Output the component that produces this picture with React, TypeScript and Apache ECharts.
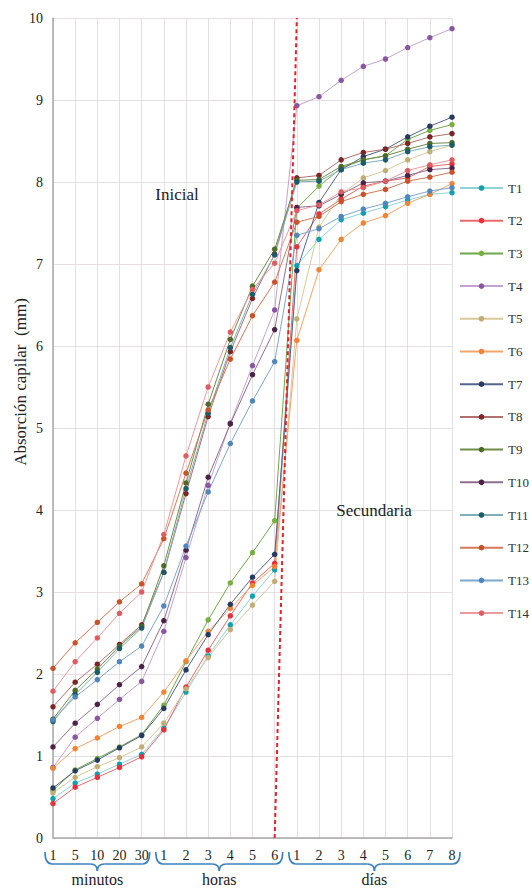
import React, { useEffect, useRef } from 'react';
import * as echarts from 'echarts';

const minutos = ['1', '5', '10', '20', '30'];
const horas = ['1', '2', '3', '4', '5', '6'];
const dias = ['1', '2', '3', '4', '5', '6', '7', '8'];
const categories = [...minutos, ...horas, ...dias];
const groupLabels = ['minutos', 'horas', 'días'];

const seriesNames = ['T1', 'T2', 'T3', 'T4', 'T5', 'T6', 'T7', 'T8', 'T9', 'T10', 'T11', 'T12', 'T13', 'T14'];

const T1 = [0.48, 0.67, 0.78, 0.90, 1.02, 1.34, 1.78, 2.22, 2.60, 2.95, 3.27, 6.98, 7.30, 7.54, 7.62, 7.70, 7.78, 7.85, 7.87];
const T2 = [0.42, 0.62, 0.74, 0.86, 0.99, 1.32, 1.84, 2.29, 2.71, 3.11, 3.35, 7.21, 7.61, 7.79, 7.95, 8.01, 8.05, 8.19, 8.22];
const T3 = [0.58, 0.83, 0.97, 1.11, 1.26, 1.62, 2.15, 2.66, 3.11, 3.48, 3.87, 7.68, 7.95, 8.17, 8.27, 8.32, 8.52, 8.63, 8.70];
const T4 = [0.86, 1.23, 1.46, 1.69, 1.91, 2.52, 3.42, 4.30, 5.06, 5.76, 6.44, 8.93, 9.04, 9.24, 9.41, 9.50, 9.64, 9.76, 9.87];
const T5 = [0.55, 0.74, 0.87, 0.98, 1.11, 1.40, 1.82, 2.20, 2.54, 2.84, 3.13, 6.33, 7.45, 7.85, 8.05, 8.14, 8.27, 8.37, 8.45];
const T6 = [0.85, 1.09, 1.22, 1.36, 1.47, 1.78, 2.16, 2.52, 2.80, 3.08, 3.31, 6.07, 6.93, 7.30, 7.50, 7.59, 7.74, 7.85, 7.98];
const T7 = [0.61, 0.82, 0.95, 1.10, 1.25, 1.58, 2.05, 2.48, 2.85, 3.18, 3.46, 6.92, 7.75, 8.15, 8.31, 8.40, 8.55, 8.68, 8.79];
const T8 = [1.60, 1.90, 2.12, 2.36, 2.60, 3.24, 4.20, 5.14, 5.93, 6.58, 7.12, 8.05, 8.08, 8.27, 8.36, 8.40, 8.47, 8.55, 8.59];
const T9 = [1.45, 1.80, 2.06, 2.34, 2.58, 3.32, 4.33, 5.29, 6.08, 6.73, 7.18, 8.02, 8.03, 8.19, 8.27, 8.32, 8.40, 8.47, 8.48];
const T10 = [1.11, 1.40, 1.63, 1.87, 2.09, 2.65, 3.51, 4.40, 5.05, 5.65, 6.20, 7.69, 7.71, 7.85, 7.99, 8.01, 8.08, 8.15, 8.17];
const T11 = [1.42, 1.75, 2.02, 2.31, 2.56, 3.24, 4.26, 5.18, 5.98, 6.63, 7.11, 8.00, 8.01, 8.15, 8.23, 8.27, 8.37, 8.43, 8.45];
const T12 = [2.07, 2.38, 2.63, 2.88, 3.10, 3.65, 4.45, 5.22, 5.84, 6.37, 6.78, 7.51, 7.58, 7.76, 7.85, 7.91, 8.01, 8.06, 8.12];
const T13 = [1.44, 1.72, 1.93, 2.15, 2.34, 2.83, 3.56, 4.22, 4.81, 5.33, 5.81, 7.35, 7.43, 7.58, 7.67, 7.74, 7.82, 7.89, 7.93];
const T14 = [1.79, 2.15, 2.44, 2.74, 3.00, 3.70, 4.66, 5.50, 6.17, 6.69, 7.01, 7.65, 7.72, 7.88, 7.93, 8.01, 8.14, 8.21, 8.27];

const seriesValues = [T1, T2, T3, T4, T5, T6, T7, T8, T9, T10, T11, T12, T13, T14];

const markerColors = ['#11a0ad', '#e8303a', '#76b041', '#8a569f', '#bfae76', '#f08436', '#263a63', '#7b2525', '#4e6b2a', '#4a2347', '#1b5c68', '#c8522b', '#4f86bb', '#e05c63'];
const lineColors = ['#8ed3da', '#e86a6a', '#6fa84a', '#c2a3d1', '#d8c89e', '#f4a56a', '#54648a', '#b07070', '#6f8c4a', '#8f6f8d', '#7fb0b8', '#d27a5a', '#7fa6cc', '#eb9a9e'];

const FONT = 'Liberation Serif';

export default function App() {
  const ref = useRef<HTMLDivElement>(null);

  useEffect(() => {
    if (!ref.current) return;
    const chart = echarts.init(ref.current, null, { renderer: 'svg' });

    const series: any[] = seriesValues.map((vals, i) => ({
      name: seriesNames[i],
      type: 'line',
      data: vals,
      symbol: 'circle',
      symbolSize: 5.5,
      itemStyle: { color: markerColors[i] },
      lineStyle: { color: lineColors[i], width: 1 },
      z: 3,
    }));

    series[0].markLine = {
      silent: true,
      symbol: ['none', 'none'],
      label: { show: false },
      lineStyle: { color: '#e0242a', width: 2, type: [4, 3] },
      z: 10,
      data: [[{ coord: [10, 0] }, { coord: [11, 10] }]],
    };

    chart.setOption({
      animation: false,
      backgroundColor: '#ffffff',
      textStyle: { fontFamily: FONT },
      grid: { left: 53, right: 79, top: 18, bottom: 50, containLabel: false },
      legend: {
        orient: 'vertical',
        left: 459,
        top: 181,
        padding: 0,
        itemWidth: 43,
        itemHeight: 7,
        itemGap: 18.7,
        data: seriesNames,
        textStyle: { fontFamily: FONT, fontSize: 13, color: '#333', lineHeight: 14 },
      },
      xAxis: {
        type: 'category',
        data: categories,
        boundaryGap: false,
        axisLine: { lineStyle: { color: '#a8a8a8', width: 1.5 } },
        axisTick: { show: false },
        axisLabel: { fontFamily: FONT, fontSize: 14, color: '#222', margin: 10, interval: 0 },
        splitLine: { show: true, lineStyle: { color: '#e6dfdf', width: 1 } },
      },
      yAxis: {
        type: 'value',
        min: 0,
        max: 10,
        interval: 1,
        axisLine: { show: true, lineStyle: { color: '#a8a8a8', width: 1.5 } },
        axisTick: { show: false },
        axisLabel: { fontFamily: FONT, fontSize: 14, color: '#222', margin: 10 },
        splitLine: { show: true, lineStyle: { color: '#e6dfdf', width: 1 } },
      },
      series,
    });

    const px = (i: number) => chart.convertToPixel({ xAxisIndex: 0 }, i) as number;
    const groups = [
      [0, minutos.length - 1],
      [minutos.length, minutos.length + horas.length - 1],
      [minutos.length + horas.length, categories.length - 1],
    ];
    const yTop = 852;
    const yMid = 864;
    const yTip = 871;
    const r = 7;
    const braceColor = '#3a7fc1';
    const graphics: any[] = [];
    const textStyle = (text: string, size: number) => ({
      text,
      fontFamily: FONT,
      fontSize: size,
      fill: '#222',
      align: 'center',
      verticalAlign: 'middle',
    });
    groups.forEach(([a, b], gi) => {
      const xa = px(a) - 8;
      const xb = px(b) + 8;
      const xm = (xa + xb) / 2;
      const st = { stroke: braceColor, lineWidth: 1.6, fill: 'none' };
      graphics.push(
        { type: 'bezierCurve', shape: { x1: xa, y1: yTop, x2: xa + r, y2: yMid, cpx1: xa, cpy1: yMid }, style: st },
        { type: 'line', shape: { x1: xa + r, y1: yMid, x2: xm - r, y2: yMid }, style: st },
        { type: 'bezierCurve', shape: { x1: xm - r, y1: yMid, x2: xm, y2: yTip, cpx1: xm, cpy1: yMid }, style: st },
        { type: 'bezierCurve', shape: { x1: xm, y1: yTip, x2: xm + r, y2: yMid, cpx1: xm, cpy1: yMid }, style: st },
        { type: 'line', shape: { x1: xm + r, y1: yMid, x2: xb - r, y2: yMid }, style: st },
        { type: 'bezierCurve', shape: { x1: xb - r, y1: yMid, x2: xb, y2: yTop, cpx1: xb, cpy1: yMid }, style: st },
        { type: 'text', x: xm, y: 879, style: textStyle(groupLabels[gi], 16) }
      );
    });

    graphics.push(
      { type: 'text', x: 177, y: 194, style: textStyle('Inicial', 17) },
      { type: 'text', x: 374, y: 510, style: textStyle('Secundaria', 17) },
      { type: 'text', x: 20, y: 382, rotation: Math.PI / 2, style: textStyle('Absorción capilar  (mm)', 17) }
    );

    chart.setOption({ graphic: graphics });

    return () => chart.dispose();
  }, []);

  return <div ref={ref} style={{ position: 'absolute', left: 0, top: 0, width: 531, height: 888 }} />;
}
